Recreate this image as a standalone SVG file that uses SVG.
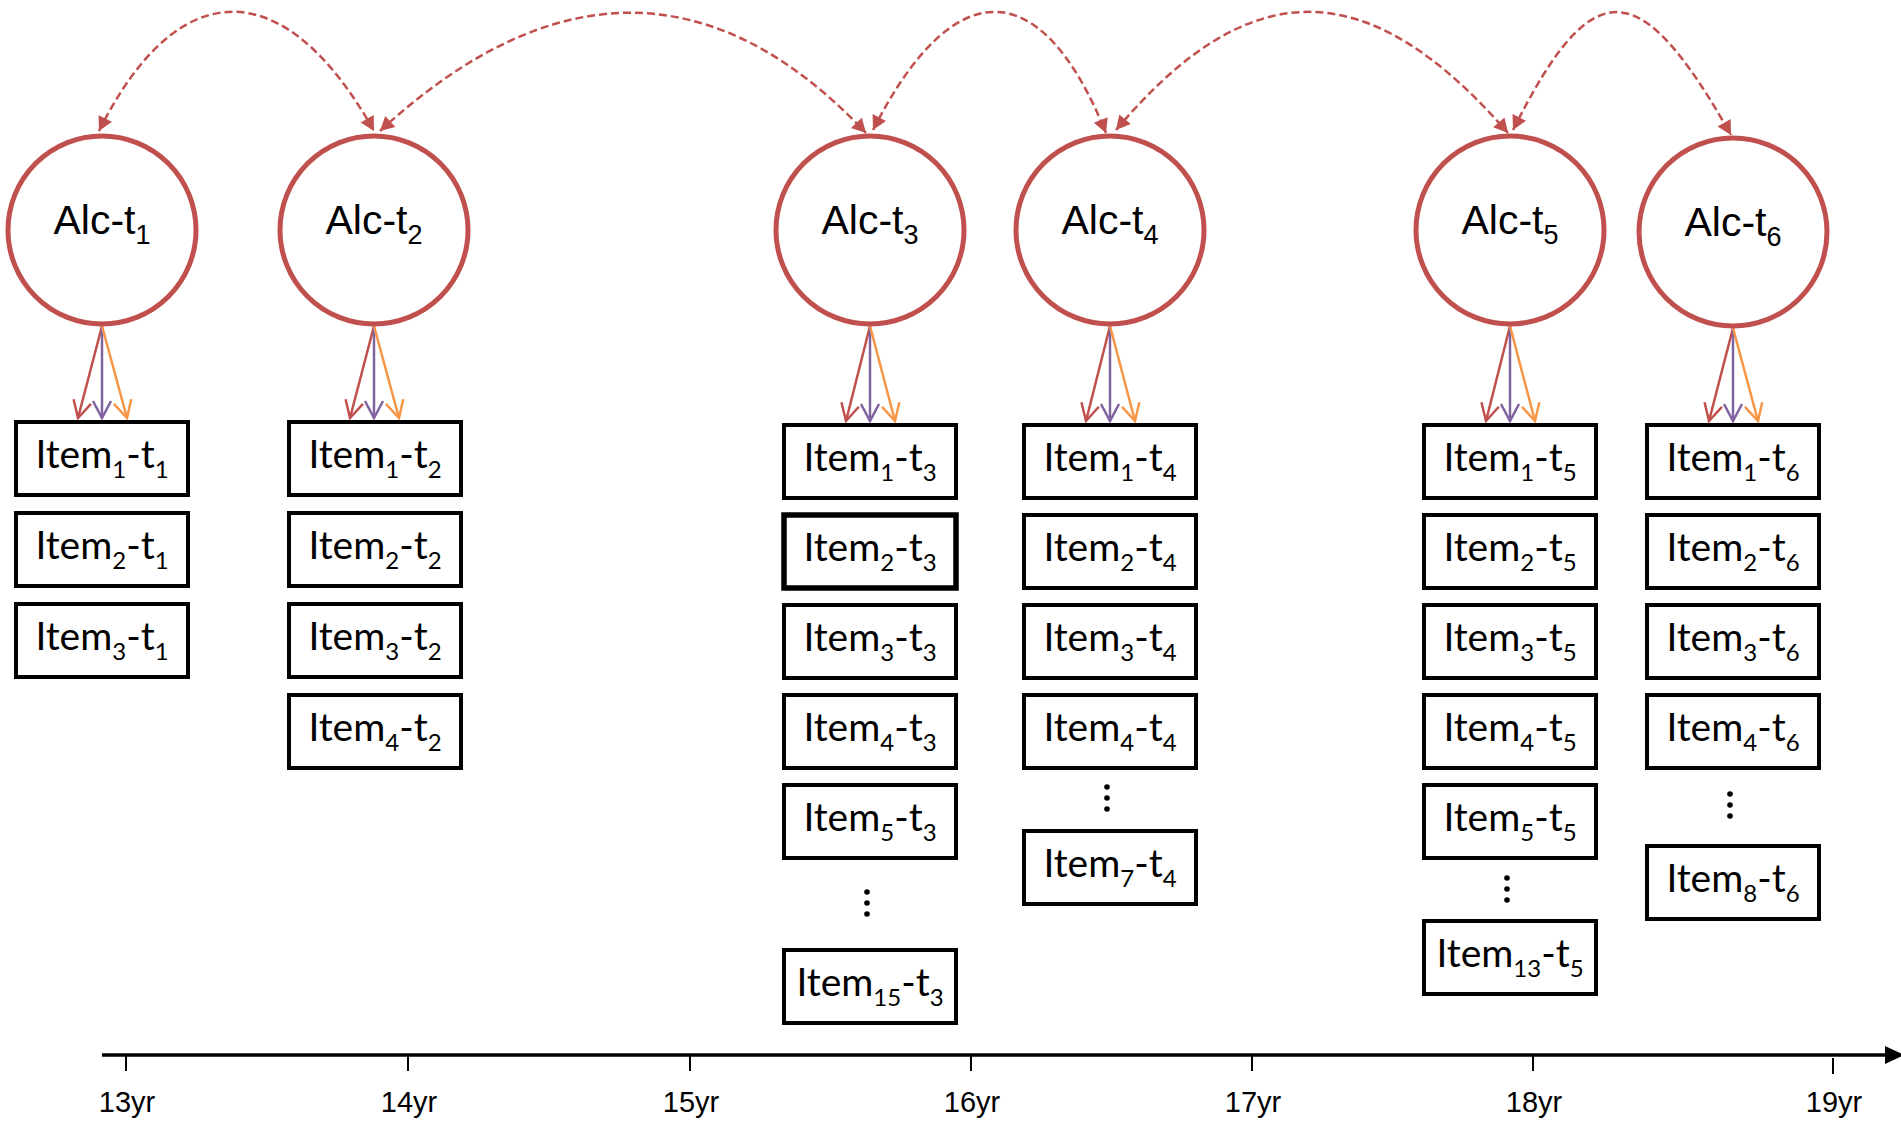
<svg xmlns="http://www.w3.org/2000/svg" width="1901" height="1122" viewBox="0 0 1901 1122">
<style>
.lat{fill:#fff;stroke:#C0504D;stroke-width:5}
.lt{font-family:"Liberation Sans",Arial,sans-serif;font-size:41px;fill:#000;text-anchor:middle}
.box{fill:#fff;stroke:#000;stroke-width:4}
.it{font-family:Lato,"Open Sans",sans-serif;font-size:39px;fill:#000;text-anchor:middle}
.sub{font-size:24px}
.lsub{font-size:27px}
.cov{fill:none;stroke:#C0504D;stroke-width:2.5;stroke-dasharray:8 4;marker-start:url(#aD);marker-end:url(#aD)}
.lr{stroke:#C0504D;stroke-width:2.5;fill:none;marker-end:url(#vR)}
.lp{stroke:#8064A2;stroke-width:2.5;fill:none;marker-end:url(#vP)}
.lo{stroke:#F79646;stroke-width:2.5;fill:none;marker-end:url(#vO)}
.tick{stroke:#000;stroke-width:2}
.ax{font-family:"Liberation Sans",Arial,sans-serif;font-size:29px;fill:#000;text-anchor:middle}
.dot{fill:#000}
</style>
<defs>
<marker id="aD" viewBox="-15 -9 17 18" refX="0" refY="0" markerWidth="17" markerHeight="18" orient="auto-start-reverse" markerUnits="userSpaceOnUse"><path d="M-14,-7.5 L0,0 L-14,7.5 Z" fill="#C0504D"/></marker>
<marker id="vR" viewBox="-20 -12 24 24" refX="0" refY="0" markerWidth="24" markerHeight="24" orient="auto" markerUnits="userSpaceOnUse"><path d="M-17,-9 L0,0 L-17,9" fill="none" stroke="#C0504D" stroke-width="2.5"/></marker>
<marker id="vP" viewBox="-20 -12 24 24" refX="0" refY="0" markerWidth="24" markerHeight="24" orient="auto" markerUnits="userSpaceOnUse"><path d="M-17,-9 L0,0 L-17,9" fill="none" stroke="#8064A2" stroke-width="2.5"/></marker>
<marker id="vO" viewBox="-20 -12 24 24" refX="0" refY="0" markerWidth="24" markerHeight="24" orient="auto" markerUnits="userSpaceOnUse"><path d="M-17,-9 L0,0 L-17,9" fill="none" stroke="#F79646" stroke-width="2.5"/></marker>
</defs>
<rect width="1901" height="1122" fill="#fff"/>

<g id="connectors">
<path class="cov" d="M99,131 C178,-28 285,-28 374,131"/>
<path class="cov" d="M380,131 C552,-27 715,-27 866,133"/>
<path class="cov" d="M873,130 C953,-28 1041,-28 1106,133"/>
<path class="cov" d="M1116,130 C1249,-28 1368,-28 1508,133"/>
<path class="cov" d="M1513,130 C1592,-28 1639,-28 1731,135"/>

<path class="lr" d="M102,326 L78,418"/><path class="lp" d="M102,326 L102,418"/><path class="lo" d="M102,326 L127,418"/>
<path class="lr" d="M374,326 L350,418"/><path class="lp" d="M374,326 L374,418"/><path class="lo" d="M374,326 L399,418"/>
<path class="lr" d="M870,326 L846,421"/><path class="lp" d="M870,326 L870,421"/><path class="lo" d="M870,326 L895,421"/>
<path class="lr" d="M1110,326 L1086,421"/><path class="lp" d="M1110,326 L1110,421"/><path class="lo" d="M1110,326 L1135,421"/>
<path class="lr" d="M1510,326 L1486,421"/><path class="lp" d="M1510,326 L1510,421"/><path class="lo" d="M1510,326 L1535,421"/>
<path class="lr" d="M1733,328 L1709,421"/><path class="lp" d="M1733,328 L1733,421"/><path class="lo" d="M1733,328 L1758,421"/>
</g>

<g id="alc-t1"><circle class="lat" cx="102" cy="230" r="94"/><text class="lt" x="102" y="234">Alc-t<tspan class="lsub" dy="10">1</tspan></text></g>
<g id="alc-t2"><circle class="lat" cx="374" cy="230" r="94"/><text class="lt" x="374" y="234">Alc-t<tspan class="lsub" dy="10">2</tspan></text></g>
<g id="alc-t3"><circle class="lat" cx="870" cy="230" r="94"/><text class="lt" x="870" y="234">Alc-t<tspan class="lsub" dy="10">3</tspan></text></g>
<g id="alc-t4"><circle class="lat" cx="1110" cy="230" r="94"/><text class="lt" x="1110" y="234">Alc-t<tspan class="lsub" dy="10">4</tspan></text></g>
<g id="alc-t5"><circle class="lat" cx="1510" cy="230" r="94"/><text class="lt" x="1510" y="234">Alc-t<tspan class="lsub" dy="10">5</tspan></text></g>
<g id="alc-t6"><circle class="lat" cx="1733" cy="232" r="94"/><text class="lt" x="1733" y="236">Alc-t<tspan class="lsub" dy="10">6</tspan></text></g>

<!-- column 1 -->
<g id="item1-t1"><rect class="box" x="16" y="422" width="172" height="73"/><text class="it" x="102" y="468">Item<tspan class="sub" dy="10">1</tspan><tspan dy="-10">-t</tspan><tspan class="sub" dy="10">1</tspan></text></g>
<g id="item2-t1"><rect class="box" x="16" y="513" width="172" height="73"/><text class="it" x="102" y="559">Item<tspan class="sub" dy="10">2</tspan><tspan dy="-10">-t</tspan><tspan class="sub" dy="10">1</tspan></text></g>
<g id="item3-t1"><rect class="box" x="16" y="604" width="172" height="73"/><text class="it" x="102" y="650">Item<tspan class="sub" dy="10">3</tspan><tspan dy="-10">-t</tspan><tspan class="sub" dy="10">1</tspan></text></g>

<!-- column 2 -->
<g id="item1-t2"><rect class="box" x="289" y="422" width="172" height="73"/><text class="it" x="375" y="468">Item<tspan class="sub" dy="10">1</tspan><tspan dy="-10">-t</tspan><tspan class="sub" dy="10">2</tspan></text></g>
<g id="item2-t2"><rect class="box" x="289" y="513" width="172" height="73"/><text class="it" x="375" y="559">Item<tspan class="sub" dy="10">2</tspan><tspan dy="-10">-t</tspan><tspan class="sub" dy="10">2</tspan></text></g>
<g id="item3-t2"><rect class="box" x="289" y="604" width="172" height="73"/><text class="it" x="375" y="650">Item<tspan class="sub" dy="10">3</tspan><tspan dy="-10">-t</tspan><tspan class="sub" dy="10">2</tspan></text></g>
<g id="item4-t2"><rect class="box" x="289" y="695" width="172" height="73"/><text class="it" x="375" y="741">Item<tspan class="sub" dy="10">4</tspan><tspan dy="-10">-t</tspan><tspan class="sub" dy="10">2</tspan></text></g>

<!-- column 3 -->
<g id="item1-t3"><rect class="box" x="784" y="425" width="172" height="73"/><text class="it" x="870" y="471">Item<tspan class="sub" dy="10">1</tspan><tspan dy="-10">-t</tspan><tspan class="sub" dy="10">3</tspan></text></g>
<g id="item2-t3"><rect class="box" x="784" y="515" width="172" height="73" style="stroke-width:5.5"/><text class="it" x="870" y="561">Item<tspan class="sub" dy="10">2</tspan><tspan dy="-10">-t</tspan><tspan class="sub" dy="10">3</tspan></text></g>
<g id="item3-t3"><rect class="box" x="784" y="605" width="172" height="73"/><text class="it" x="870" y="651">Item<tspan class="sub" dy="10">3</tspan><tspan dy="-10">-t</tspan><tspan class="sub" dy="10">3</tspan></text></g>
<g id="item4-t3"><rect class="box" x="784" y="695" width="172" height="73"/><text class="it" x="870" y="741">Item<tspan class="sub" dy="10">4</tspan><tspan dy="-10">-t</tspan><tspan class="sub" dy="10">3</tspan></text></g>
<g id="item5-t3"><rect class="box" x="784" y="785" width="172" height="73"/><text class="it" x="870" y="831">Item<tspan class="sub" dy="10">5</tspan><tspan dy="-10">-t</tspan><tspan class="sub" dy="10">3</tspan></text></g>
<g id="dots-t3"><circle class="dot" cx="867" cy="892" r="2.8"/><circle class="dot" cx="867" cy="903" r="2.8"/><circle class="dot" cx="867" cy="914" r="2.8"/></g>
<g id="item15-t3"><rect class="box" x="784" y="950" width="172" height="73"/><text class="it" x="870" y="996">Item<tspan class="sub" dy="10">15</tspan><tspan dy="-10">-t</tspan><tspan class="sub" dy="10">3</tspan></text></g>

<!-- column 4 -->
<g id="item1-t4"><rect class="box" x="1024" y="425" width="172" height="73"/><text class="it" x="1110" y="471">Item<tspan class="sub" dy="10">1</tspan><tspan dy="-10">-t</tspan><tspan class="sub" dy="10">4</tspan></text></g>
<g id="item2-t4"><rect class="box" x="1024" y="515" width="172" height="73"/><text class="it" x="1110" y="561">Item<tspan class="sub" dy="10">2</tspan><tspan dy="-10">-t</tspan><tspan class="sub" dy="10">4</tspan></text></g>
<g id="item3-t4"><rect class="box" x="1024" y="605" width="172" height="73"/><text class="it" x="1110" y="651">Item<tspan class="sub" dy="10">3</tspan><tspan dy="-10">-t</tspan><tspan class="sub" dy="10">4</tspan></text></g>
<g id="item4-t4"><rect class="box" x="1024" y="695" width="172" height="73"/><text class="it" x="1110" y="741">Item<tspan class="sub" dy="10">4</tspan><tspan dy="-10">-t</tspan><tspan class="sub" dy="10">4</tspan></text></g>
<g id="dots-t4"><circle class="dot" cx="1107" cy="787" r="2.8"/><circle class="dot" cx="1107" cy="798" r="2.8"/><circle class="dot" cx="1107" cy="809" r="2.8"/></g>
<g id="item7-t4"><rect class="box" x="1024" y="831" width="172" height="73"/><text class="it" x="1110" y="877">Item<tspan class="sub" dy="10">7</tspan><tspan dy="-10">-t</tspan><tspan class="sub" dy="10">4</tspan></text></g>

<!-- column 5 -->
<g id="item1-t5"><rect class="box" x="1424" y="425" width="172" height="73"/><text class="it" x="1510" y="471">Item<tspan class="sub" dy="10">1</tspan><tspan dy="-10">-t</tspan><tspan class="sub" dy="10">5</tspan></text></g>
<g id="item2-t5"><rect class="box" x="1424" y="515" width="172" height="73"/><text class="it" x="1510" y="561">Item<tspan class="sub" dy="10">2</tspan><tspan dy="-10">-t</tspan><tspan class="sub" dy="10">5</tspan></text></g>
<g id="item3-t5"><rect class="box" x="1424" y="605" width="172" height="73"/><text class="it" x="1510" y="651">Item<tspan class="sub" dy="10">3</tspan><tspan dy="-10">-t</tspan><tspan class="sub" dy="10">5</tspan></text></g>
<g id="item4-t5"><rect class="box" x="1424" y="695" width="172" height="73"/><text class="it" x="1510" y="741">Item<tspan class="sub" dy="10">4</tspan><tspan dy="-10">-t</tspan><tspan class="sub" dy="10">5</tspan></text></g>
<g id="item5-t5"><rect class="box" x="1424" y="785" width="172" height="73"/><text class="it" x="1510" y="831">Item<tspan class="sub" dy="10">5</tspan><tspan dy="-10">-t</tspan><tspan class="sub" dy="10">5</tspan></text></g>
<g id="dots-t5"><circle class="dot" cx="1507" cy="878" r="2.8"/><circle class="dot" cx="1507" cy="889" r="2.8"/><circle class="dot" cx="1507" cy="900" r="2.8"/></g>
<g id="item13-t5"><rect class="box" x="1424" y="921" width="172" height="73"/><text class="it" x="1510" y="967">Item<tspan class="sub" dy="10">13</tspan><tspan dy="-10">-t</tspan><tspan class="sub" dy="10">5</tspan></text></g>

<!-- column 6 -->
<g id="item1-t6"><rect class="box" x="1647" y="425" width="172" height="73"/><text class="it" x="1733" y="471">Item<tspan class="sub" dy="10">1</tspan><tspan dy="-10">-t</tspan><tspan class="sub" dy="10">6</tspan></text></g>
<g id="item2-t6"><rect class="box" x="1647" y="515" width="172" height="73"/><text class="it" x="1733" y="561">Item<tspan class="sub" dy="10">2</tspan><tspan dy="-10">-t</tspan><tspan class="sub" dy="10">6</tspan></text></g>
<g id="item3-t6"><rect class="box" x="1647" y="605" width="172" height="73"/><text class="it" x="1733" y="651">Item<tspan class="sub" dy="10">3</tspan><tspan dy="-10">-t</tspan><tspan class="sub" dy="10">6</tspan></text></g>
<g id="item4-t6"><rect class="box" x="1647" y="695" width="172" height="73"/><text class="it" x="1733" y="741">Item<tspan class="sub" dy="10">4</tspan><tspan dy="-10">-t</tspan><tspan class="sub" dy="10">6</tspan></text></g>
<g id="dots-t6"><circle class="dot" cx="1730" cy="794" r="2.8"/><circle class="dot" cx="1730" cy="805" r="2.8"/><circle class="dot" cx="1730" cy="816" r="2.8"/></g>
<g id="item8-t6"><rect class="box" x="1647" y="846" width="172" height="73"/><text class="it" x="1733" y="892">Item<tspan class="sub" dy="10">8</tspan><tspan dy="-10">-t</tspan><tspan class="sub" dy="10">6</tspan></text></g>

<!-- time axis -->
<g id="axis">
<line x1="102" y1="1055" x2="1888" y2="1055" stroke="#000" stroke-width="3.5"/>
<polygon points="1885,1046 1904,1055 1885,1064" fill="#000"/>
<line class="tick" x1="126" y1="1056" x2="126" y2="1071"/>
<line class="tick" x1="408" y1="1056" x2="408" y2="1071"/>
<line class="tick" x1="690" y1="1056" x2="690" y2="1071"/>
<line class="tick" x1="971" y1="1056" x2="971" y2="1071"/>
<line class="tick" x1="1252" y1="1056" x2="1252" y2="1071"/>
<line class="tick" x1="1533" y1="1056" x2="1533" y2="1071"/>
<line class="tick" x1="1833" y1="1058" x2="1833" y2="1074"/>
<text class="ax" x="127" y="1112">13yr</text>
<text class="ax" x="409" y="1112">14yr</text>
<text class="ax" x="691" y="1112">15yr</text>
<text class="ax" x="972" y="1112">16yr</text>
<text class="ax" x="1253" y="1112">17yr</text>
<text class="ax" x="1534" y="1112">18yr</text>
<text class="ax" x="1834" y="1112">19yr</text>
</g>
</svg>
